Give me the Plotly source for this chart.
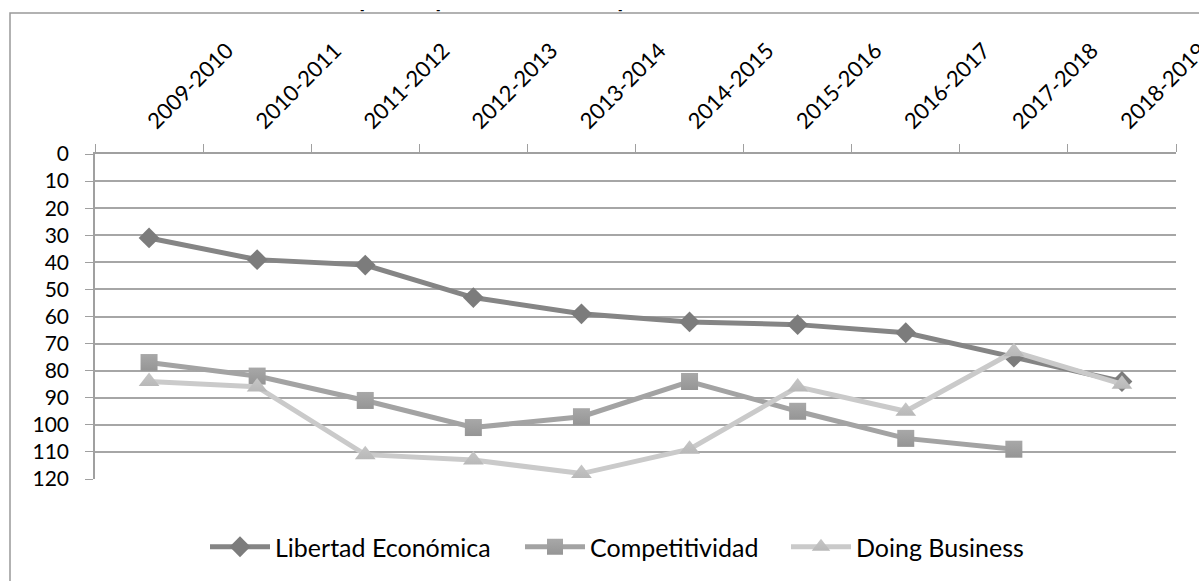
import plotly.graph_objects as go

categories = ["2009-2010", "2010-2011", "2011-2012", "2012-2013", "2013-2014",
              "2014-2015", "2015-2016", "2016-2017", "2017-2018", "2018-2019"]
libertad = [31, 39, 41, 53, 59, 62, 63, 66, 75, 84]
competitividad = [77, 82, 91, 101, 97, 84, 95, 105, 109, None]
doing_business = [84, 86, 111, 113, 118, 109, 86, 95, 73, 85]
y_ticks = list(range(0, 121, 10))

FONT = "Lato"
W, H = 1199, 581
L, R, T, B = 95, 1176, 154, 479

def px_x(p):
    return (p - L) / (R - L)

def px_y(p):
    return (B - p) / (B - T)

fig = go.Figure()
fig.add_trace(go.Scatter(
    x=categories, y=libertad, name="Libertad Económica", mode="lines+markers",
    line=dict(color="#858585", width=5),
    marker=dict(symbol="diamond", size=16, color="#7c7c7c", line=dict(width=0)),
    legend="legend",
))
fig.add_trace(go.Scatter(
    x=categories, y=competitividad, name="Competitividad", mode="lines+markers",
    line=dict(color="#a3a3a3", width=5),
    marker=dict(symbol="square", size=17, color="#a8a8a8",
                gradient=dict(type="vertical", color="#959595"), line=dict(width=0)),
    legend="legend2",
))
fig.add_trace(go.Scatter(
    x=categories, y=doing_business, name="Doing Business", mode="lines+markers",
    line=dict(color="#cacaca", width=5),
    marker=dict(symbol="triangle-up", size=18, color="#c6c6c6",
                gradient=dict(type="vertical", color="#b8b8b8"), line=dict(width=0)),
    legend="legend3",
))

def leg(xpix):
    return dict(orientation="h", x=px_x(xpix), xanchor="left",
                y=px_y(547), yanchor="middle", font=dict(size=25, family=FONT, color="black"),
                itemwidth=60, bgcolor="rgba(0,0,0,0)", borderwidth=0)

fig.update_layout(
    width=W, height=H,
    margin=dict(l=L, r=W - R, t=T, b=H - B, pad=0, autoexpand=False),
    paper_bgcolor="white", plot_bgcolor="white",
    font=dict(family=FONT, size=21, color="black"),
    showlegend=True,
    legend=leg(205), legend2=leg(520), legend3=leg(786),
    xaxis=dict(type="category", side="top", categoryorder="array", categoryarray=categories,
               automargin=False,
               showgrid=False, zeroline=False, showline=True, linecolor="#a0a0a0", linewidth=1.5,
               ticks="outside", tickson="boundaries", ticklen=8, tickcolor="#a0a0a0", tickwidth=1,
               tickangle=-45, tickfont=dict(size=22, family=FONT), ticklabelstandoff=10,
               range=[-0.5, 9.5]),
    yaxis=dict(range=[120, 0], tickvals=y_ticks, ticktext=[str(v) for v in y_ticks],
               automargin=False,
               showgrid=True, gridcolor="#a6a6a6", gridwidth=1.5, zeroline=False,
               showline=True, linecolor="#a0a0a0", linewidth=1.5,
               ticks="outside", ticklen=8, tickcolor="#a0a0a0", tickwidth=1,
               tickfont=dict(size=21, family=FONT), ticklabelstandoff=12),
    shapes=[dict(type="rect", xref="paper", yref="paper",
                 x0=px_x(10), x1=px_x(1260), y0=px_y(640), y1=px_y(13),
                 line=dict(color="#999999", width=1.5), fillcolor="rgba(0,0,0,0)", layer="below")],
    annotations=[dict(text="<b>-</b>", x=px_x(xp), y=px_y(0), xref="paper", yref="paper",
                      showarrow=False, font=dict(size=12, family=FONT, color="black"),
                      xanchor="center", yanchor="top") for xp in (362, 438, 620)],
)

fig.write_html("out.html", config={"displayModeBar": False},
               post_script="document.body.style.margin='0';document.body.style.overflow='hidden';")
